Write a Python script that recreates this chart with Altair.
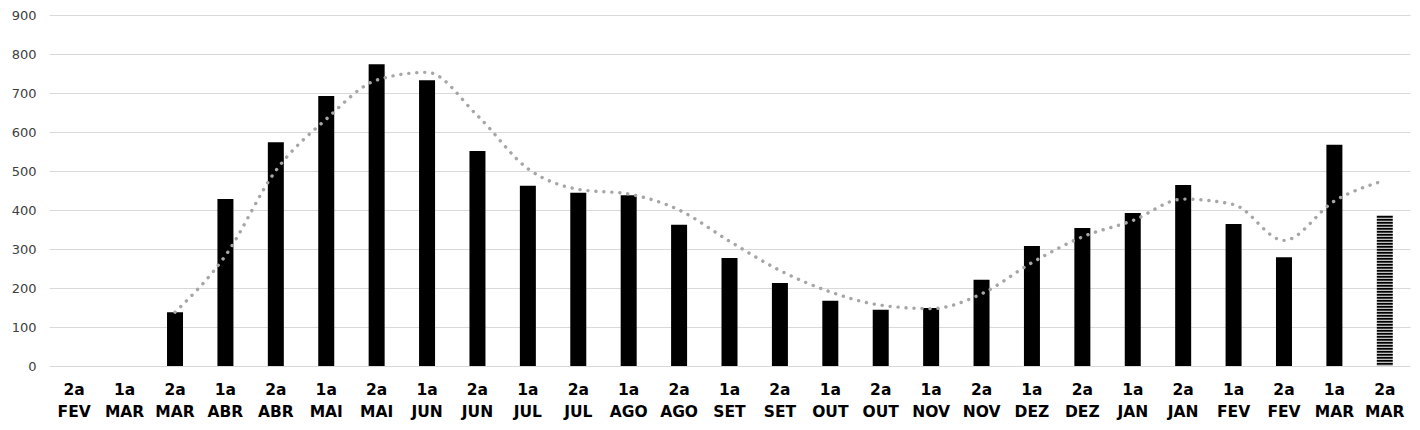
import altair as alt
import pandas as pd

quinzena = ["2a", "1a", "2a", "1a", "2a", "1a", "2a", "1a", "2a", "1a", "2a", "1a", "2a", "1a",
            "2a", "1a", "2a", "1a", "2a", "1a", "2a", "1a", "2a", "1a", "2a", "1a", "2a"]
mes = ["FEV", "MAR", "MAR", "ABR", "ABR", "MAI", "MAI", "JUN", "JUN", "JUL", "JUL", "AGO", "AGO", "SET",
       "SET", "OUT", "OUT", "NOV", "NOV", "DEZ", "DEZ", "JAN", "JAN", "FEV", "FEV", "MAR", "MAR"]
valores = [None, None, 138, 428, 574, 692, 774, 733, 551, 462, 444, 438, 362, 277,
           213, 167, 144, 149, 221, 308, 354, 392, 464, 364, 279, 567, 385]
tendencia = [None, None, 138, 283, 501, 633, 733, 753, 642, 506, 453, 441, 400, 320,
             245, 190, 156, 147, 185, 265, 331, 373, 428, 414, 322, 423, 476]
parcial = [False] * 26 + [True]
y_ticks = [0, 100, 200, 300, 400, 500, 600, 700, 800, 900]

keys = [f"{i:02d}|{q}|{m}" for i, (q, m) in enumerate(zip(quinzena, mes))]
df = pd.DataFrame({
    "key": keys,
    "valor": valores,
    "tendencia": tendencia,
    "parcial": parcial,
    "base": [0] * len(keys),
})

x_enc = alt.X(
    "key:N",
    sort=keys,
    scale=alt.Scale(domain=keys, paddingInner=0, paddingOuter=0),
    axis=alt.Axis(
        title=None, labelAngle=0, domain=False, ticks=False, grid=False,
        labelExpr="slice(split(datum.label, '|'), 1, 3)",
        labelFont="DejaVu Sans", labelFontSize=15.5, labelFontWeight="bold",
        labelColor="#000000", labelPadding=16, labelLineHeight=22,
        labelBaseline="top",
    ),
)
y_scale = alt.Scale(domain=[0, 900], nice=False)
y_axis = alt.Axis(
    title=None, values=y_ticks, domain=False, ticks=False, grid=True,
    gridColor="#d9d9d9", gridWidth=1, labelPadding=13, labelOverlap=False,
    labelFont="DejaVu Sans", labelFontSize=13, labelColor="#404040",
)

base = alt.Chart(df)

bars = base.transform_filter("datum.valor != null && !datum.parcial").mark_bar(
    size=16, color="#000000"
).encode(x=x_enc, y=alt.Y("valor:Q", scale=y_scale, axis=y_axis))

striped = base.transform_filter("datum.parcial").mark_rule(
    strokeWidth=16, strokeDash=[2, 1], strokeCap="butt", color="#000000"
).encode(x=x_enc, y=alt.Y("valor:Q", scale=y_scale, axis=y_axis), y2="base:Q")

line = base.transform_filter("datum.tendencia != null").mark_line(
    interpolate="monotone", strokeDash=[0.1, 7.9], strokeCap="round",
    strokeWidth=3.4, color="#a6a6a6"
).encode(x=x_enc, y=alt.Y("tendencia:Q", scale=y_scale, axis=y_axis))

chart = alt.layer(bars, striped, line).properties(
    width=1361, height=351,
    background="#ffffff",
    autosize=alt.AutoSizeParams(type="none"),
    padding={"left": 41, "top": 7, "right": 2, "bottom": 60},
).configure_view(strokeWidth=0, stroke=None).configure_axis(
    domain=False, ticks=False
)

chart.save("out.html", embed_options={"renderer": "svg", "actions": False})
